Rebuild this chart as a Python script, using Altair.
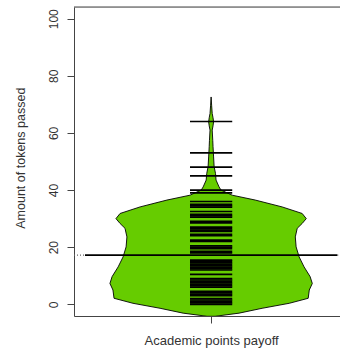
import altair as alt
import pandas as pd

# Bean outline: token amount and half-width of the density (in x units)
bean_y = [-4.2, -3.1, -1.4, 0.35, 2.1, 5, 7.3, 9.7, 13.1, 16.6, 20.1, 23.6,
          26.6, 28.3, 30, 31.8, 34.1, 36.5, 38.2, 40, 41.1, 43.5, 45.8, 48.2,
          51.6, 55.2, 57.4, 61, 62.5, 63.9, 65.3, 66.8, 69.5, 72.6]
bean_half = [0.015, 0.102, 0.186, 0.285, 0.354, 0.358, 0.369, 0.361, 0.339,
             0.321, 0.310, 0.307, 0.314, 0.332, 0.347, 0.332, 0.259, 0.161,
             0.077, 0.036, 0.029, 0.018, 0.016, 0.011, 0.009, 0.007, 0.006,
             0.004, 0.007, 0.009, 0.007, 0.004, 0.002, 0.0]

# Individual observations (bean lines)
observations = [0, 0.5, 1, 1.5, 2, 3, 3.5, 4, 4.5, 6, 6.5, 7, 7.5, 8, 8.5, 9,
                10.5, 12, 12.5, 13, 13.5, 14, 14.5, 15, 15.5, 18, 18.5,
                19.5, 20, 20.5, 22, 22.5, 24, 24.5, 25.5, 26, 26.5, 27,
                28.5, 29, 30.5, 31, 31.5, 32.5, 34, 34.5, 35, 36,
                39, 40, 45, 48, 53, 64]

bean_mean = 17.2
categories = ["Academic points payoff"]
y_ticks = [0, 20, 40, 60, 80, 100]

CENTER = 1.0
X_MIN, X_MAX = 0.5, 1.47
Y_MIN, Y_MAX = -4.1, 104.1
LINE_HALF = 0.077
MEAN_LO, MEAN_HI = 0.54, 1.46
INK = "#444444"
TEXT = "#333333"
FONT = "Liberation Sans"

xs = alt.Scale(domain=[X_MIN, X_MAX], nice=False, zero=False)
ys = alt.Scale(domain=[Y_MIN, Y_MAX], nice=False, zero=False)

shape_df = pd.DataFrame({
    "value": bean_y,
    "left": [CENTER - h for h in bean_half],
    "right": [CENTER + h for h in bean_half],
})
obs_df = pd.DataFrame({"value": observations})
obs_df["lo"] = CENTER - LINE_HALF
obs_df["hi"] = CENTER + LINE_HALF

label_expr = " : ".join(
    [f"datum.value == {i + 1} ? '{c}'" for i, c in enumerate(categories)] + ["''"]
)

bean = alt.Chart(shape_df).mark_area(
    orient="horizontal", interpolate="linear", fill="#66CC00",
    stroke="black", strokeWidth=0.9, clip=True
).encode(
    y=alt.Y("value:Q", scale=ys, axis=alt.Axis(
        values=y_ticks, title="Amount of tokens passed", grid=False,
        tickSize=7, tickColor=INK, domainColor=INK,
        labelAngle=270, labelAlign="center", labelBaseline="alphabetic",
        labelPadding=9.7, labelFontSize=12, labelColor=TEXT, labelFont=FONT,
        titleAngle=270, titleX=-50, titleY=150.7, titleAlign="center",
        titleBaseline="alphabetic", titleFontSize=12.5, titleFontWeight="normal",
        titleColor=TEXT, titleFont=FONT)),
    x=alt.X("left:Q", scale=xs, axis=alt.Axis(
        values=[CENTER], labelExpr=label_expr, title=None, grid=False,
        tickSize=7, tickColor=INK, domainColor=INK,
        labelPadding=21, labelBaseline="alphabetic", labelFontSize=13,
        labelColor=TEXT, labelFont=FONT)),
    x2="right:Q",
)

bean_lines = alt.Chart(obs_df).mark_rule(color="black", strokeWidth=1.7).encode(
    x=alt.X("lo:Q", scale=xs), x2="hi:Q", y=alt.Y("value:Q", scale=ys)
)

mean_df = pd.DataFrame({"lo": [MEAN_LO], "hi": [MEAN_HI], "value": [bean_mean]})
mean_line = alt.Chart(mean_df).mark_rule(color="black", strokeWidth=1.6).encode(
    x=alt.X("lo:Q", scale=xs), x2="hi:Q", y=alt.Y("value:Q", scale=ys)
)

overall_df = pd.DataFrame({
    "lo": [X_MIN, MEAN_HI], "hi": [MEAN_LO, X_MAX], "value": [bean_mean] * 2
})
overall_line = alt.Chart(overall_df).mark_rule(
    color="#666666", strokeWidth=1.2, strokeDash=[1, 2]
).encode(
    x=alt.X("lo:Q", scale=xs), x2="hi:Q", y=alt.Y("value:Q", scale=ys)
)

top_edge = alt.Chart(pd.DataFrame({"value": [Y_MAX]})).mark_rule(
    color=INK, strokeWidth=1
).encode(y=alt.Y("value:Q", scale=ys))

chart = alt.layer(bean, bean_lines, overall_line, mean_line, top_edge).properties(
    width=266, height=309,
    autosize=alt.AutoSizeParams(type="none"),
    padding={"left": 74, "top": 7, "right": 0, "bottom": 36},
).configure_view(stroke=None).configure(background="white")

chart.save("out.html", embed_options={"renderer": "svg", "actions": False})
